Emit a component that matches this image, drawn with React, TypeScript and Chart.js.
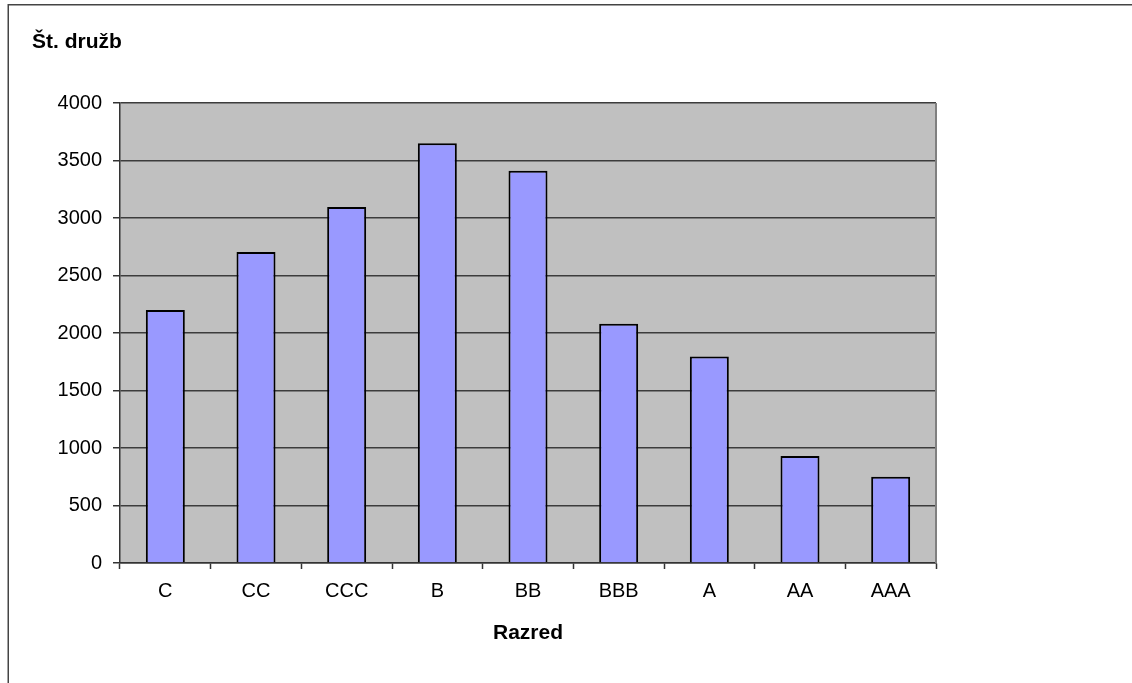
import React, { useEffect, useRef } from "react";
import { Chart, registerables } from "chart.js";

Chart.register(...registerables);

const categories: string[] = ["C", "CC", "CCC", "B", "BB", "BBB", "A", "AA", "AAA"];
const companyCounts: number[] = [2200, 2705, 3095, 3650, 3410, 2080, 1795, 930, 750];
const yTickValues: number[] = [0, 500, 1000, 1500, 2000, 2500, 3000, 3500, 4000];

const yTitle = "Št. družb";
const xTitle = "Razred";

const FONT = "'Liberation Sans', Arial, Helvetica, sans-serif";
const W = 1132;
const H = 683;

// Gray plot background, right plot border, outer frame and the y-axis caption
const decorations = {
  id: "decorations",
  beforeDraw(chart: any) {
    const { ctx, chartArea } = chart;
    ctx.save();
    ctx.fillStyle = "#ffffff";
    ctx.fillRect(0, 0, W, H);
    ctx.fillStyle = "#c0c0c0";
    ctx.fillRect(
      chartArea.left,
      chartArea.top,
      chartArea.right - chartArea.left,
      chartArea.bottom - chartArea.top
    );
    // outer frame (left and top edges)
    ctx.strokeStyle = "#444444";
    ctx.lineWidth = 1.5;
    ctx.beginPath();
    ctx.moveTo(8.25, H);
    ctx.lineTo(8.25, 4.75);
    ctx.lineTo(W, 4.75);
    ctx.stroke();
    ctx.restore();
  },
  afterDraw(chart: any) {
    const { ctx, chartArea } = chart;
    ctx.save();
    ctx.strokeStyle = "#808080";
    ctx.lineWidth = 2;
    ctx.beginPath();
    ctx.moveTo(chartArea.right, chartArea.top);
    ctx.lineTo(chartArea.right, chartArea.bottom);
    ctx.stroke();
    ctx.fillStyle = "#000000";
    ctx.font = `bold 21px ${FONT}`;
    ctx.textAlign = "left";
    ctx.textBaseline = "alphabetic";
    ctx.fillText(yTitle, 32, 48);
    ctx.restore();
  },
};

export default function App() {
  const canvasRef = useRef<HTMLCanvasElement | null>(null);

  useEffect(() => {
    if (!canvasRef.current) return;
    const chart = new Chart(canvasRef.current, {
      type: "bar",
      data: {
        labels: categories,
        datasets: [
          {
            data: companyCounts,
            backgroundColor: "#9999ff",
            borderColor: "#000000",
            borderWidth: 2,
            borderSkipped: "bottom",
            barPercentage: 0.43,
            categoryPercentage: 1,
          },
        ],
      },
      options: {
        responsive: false,
        animation: false,
        devicePixelRatio: 1,
        layout: { padding: { left: 0, top: 103, right: W - 936, bottom: 0 } },
        plugins: {
          legend: { display: false },
          tooltip: { enabled: false },
          title: { display: false },
        },
        scales: {
          x: {
            grid: {
              offset: true,
              drawOnChartArea: false,
              drawTicks: true,
              tickLength: 6,
              tickColor: "#333333",
              tickWidth: 1.5,
            },
            border: { display: true, color: "#333333", width: 1.5 },
            ticks: {
              color: "#000000",
              font: { family: FONT, size: 20 },
              padding: 10,
              maxRotation: 0,
            },
            title: {
              display: true,
              text: xTitle,
              color: "#000000",
              font: { family: FONT, size: 21, weight: "bold" },
              padding: { top: 0, bottom: 37 },
            },
            afterFit(scale: any) {
              scale.height = H - 563;
            },
          },
          y: {
            min: 0,
            max: 4000,
            afterBuildTicks(scale: any) {
              scale.ticks = yTickValues.map((v) => ({ value: v }));
            },
            grid: {
              color: "#3c3c3c",
              lineWidth: 1.5,
              drawTicks: true,
              tickLength: 7,
              tickColor: "#333333",
            },
            border: { display: true, color: "#333333", width: 1.5 },
            ticks: {
              color: "#000000",
              font: { family: FONT, size: 20 },
              padding: 11,
              callback: (value: any) => String(value),
            },
            afterFit(scale: any) {
              scale.width = 120;
            },
          },
        },
      },
      plugins: [decorations],
    });
    return () => chart.destroy();
  }, []);

  return (
    <div style={{ position: "fixed", left: 0, top: 0, width: W, height: H, background: "#ffffff" }}>
      <canvas ref={canvasRef} width={W} height={H} style={{ display: "block", width: W, height: H }} />
    </div>
  );
}
